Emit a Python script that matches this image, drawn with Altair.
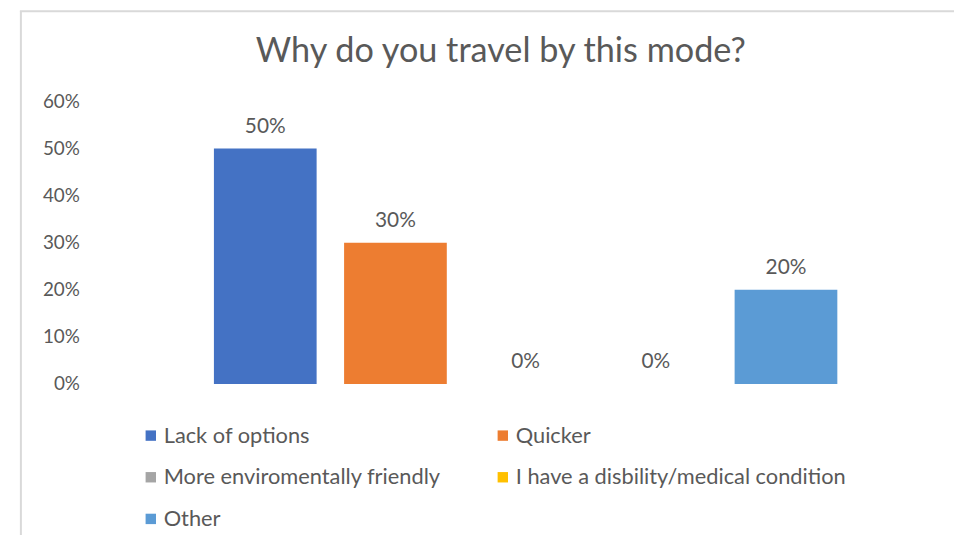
import altair as alt
import pandas as pd

title_text = "Why do you travel by this mode?"
reasons = ["Lack of options", "Quicker", "More enviromentally friendly",
           "I have a disbility/medical condition", "Other"]
shares = [0.50, 0.30, 0.0, 0.0, 0.20]
colors = ["#4472C4", "#ED7D31", "#A5A5A5", "#FFC000", "#5B9BD5"]
tick_values = [0.0, 0.1, 0.2, 0.3, 0.4, 0.5, 0.6]

df = pd.DataFrame({"reason": reasons, "share": shares})

FONT = "Lato"
GRAY = "#595959"

x = alt.X("reason:N", sort=reasons, axis=None,
          scale=alt.Scale(paddingInner=0.211, paddingOuter=0.881))
y = alt.Y("share:Q", scale=alt.Scale(domain=[0, 0.6]),
          axis=alt.Axis(values=tick_values, format=".0%", grid=False, domain=False,
                        ticks=False, labelPadding=20, labelFont=FONT, labelFontSize=19,
                        labelColor=GRAY, title=None))

bars = alt.Chart(df).mark_bar().encode(
    x=x, y=y,
    color=alt.Color("reason:N", scale=alt.Scale(domain=reasons, range=colors),
                    legend=alt.Legend(orient="none", legendX=41, legendY=326, columns=2,
                                      direction="horizontal",
                                      symbolType="square", symbolSize=110,
                                      symbolStrokeWidth=0, labelFont=FONT,
                                      labelFontSize=22, labelColor=GRAY,
                                      labelOffset=2, columnPadding=51,
                                      rowPadding=20, labelLimit=400, title=None)),
)

labels = alt.Chart(df).mark_text(baseline="bottom", dy=-12, font=FONT,
                                 fontSize=21, color=GRAY).encode(
    x=x, y=y, text=alt.Text("share:Q", format=".0%"))

title_df = pd.DataFrame({"t": [title_text]})
title = alt.Chart(title_df).mark_text(font=FONT, fontSize=34.5, color=GRAY,
                                      align="center", baseline="middle").encode(
    text="t:N", x=alt.value(405), y=alt.value(-50))

frame_df = pd.DataFrame({"k": [0]})
left_border = alt.Chart(frame_df).mark_rule(color="#d9d9d9", strokeWidth=2).encode(
    x=alt.value(-79), y=alt.value(-91), y2=alt.value(460))
top_border = alt.Chart(frame_df).mark_rule(color="#d9d9d9", strokeWidth=2).encode(
    x=alt.value(-80), x2=alt.value(870), y=alt.value(-91))

chart = alt.layer(left_border, top_border, title, bars, labels).properties(
    width=860, height=285,
    padding={"left": 92, "top": 92, "right": 2, "bottom": 150},
    autosize=alt.AutoSizeParams(type="none"),
).configure_view(stroke=None)

chart.save("out.html", embed_options={"renderer": "svg", "actions": False})
